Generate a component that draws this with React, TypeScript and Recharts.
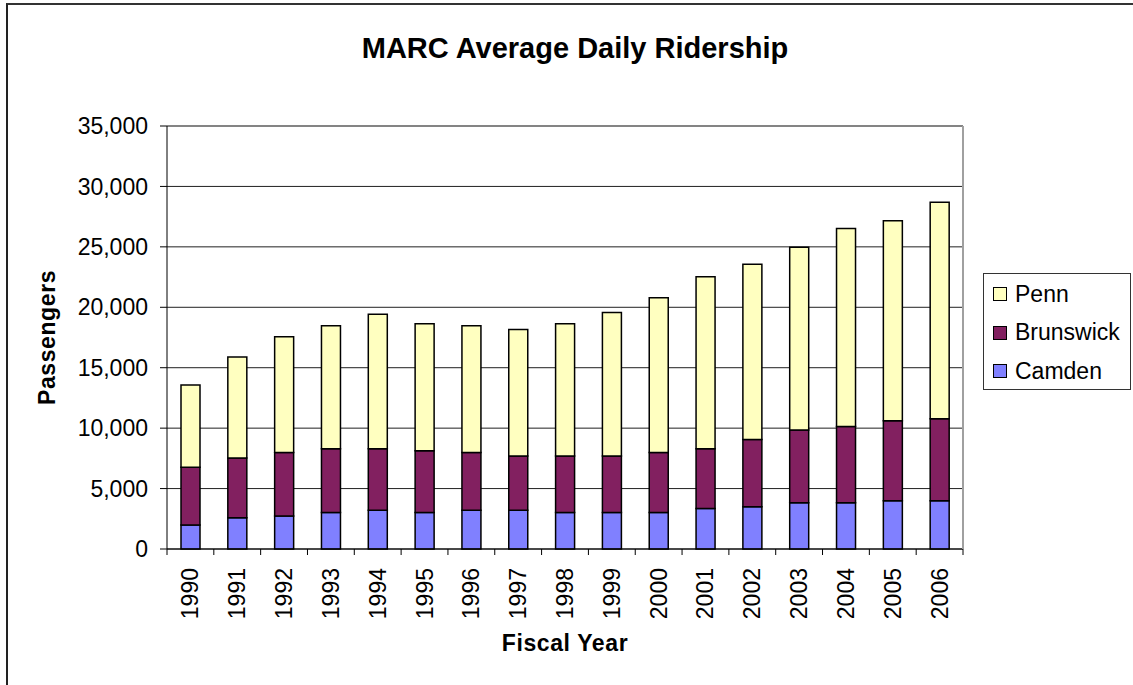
import React from 'react';
import { BarChart, Bar, XAxis, YAxis, CartesianGrid, Legend, ReferenceLine } from 'recharts';

const YEARS = ['1990', '1991', '1992', '1993', '1994', '1995', '1996', '1997', '1998',
  '1999', '2000', '2001', '2002', '2003', '2004', '2005', '2006'];
const CAMDEN = [1990, 2590, 2730, 3030, 3200, 3030, 3200, 3200, 3030, 3030, 3030, 3360, 3500, 3830, 3830, 4000, 4000];
const BRUNSWICK = [4770, 4930, 5260, 5270, 5100, 5100, 4790, 4490, 4660, 4660, 4960, 4940, 5570, 6010, 6310, 6610, 6780];
const PENN = [6800, 8360, 9570, 10170, 11130, 10500, 10480, 10470, 10940, 11880, 12790, 14220, 14500, 15130, 16380, 16540, 17910];
const Y_TICKS = [0, 5000, 10000, 15000, 20000, 25000, 30000, 35000];
const LEGEND_ORDER = ['Penn', 'Brunswick', 'Camden'];

const FONT = "'Liberation Sans', Arial, sans-serif";
const W = 1133;
const H = 685;
const PLOT_LEFT = 167;
const PLOT_RIGHT = 963;
const BAND = (PLOT_RIGHT - PLOT_LEFT) / YEARS.length;

const data = YEARS.map((year, i) => ({
  year,
  Camden: CAMDEN[i],
  Brunswick: BRUNSWICK[i],
  Penn: PENN[i],
}));

function YearTick(props: any) {
  const { x, y, payload } = props;
  const i = payload?.index ?? props.index;
  const ty = y + 19;
  return (
    <g>
      <line x1={x - BAND / 2} x2={x - BAND / 2} y1={y} y2={y + 6} stroke="#000" />
      {i === YEARS.length - 1 && (
        <line x1={x + BAND / 2} x2={x + BAND / 2} y1={y} y2={y + 6} stroke="#000" />
      )}
      <text x={x} y={ty} transform={`rotate(-90 ${x} ${ty})`} textAnchor="end"
        dominantBaseline="central" fontSize={23} fontFamily={FONT} fill="#000">
        {payload.value}
      </text>
    </g>
  );
}

function LegendBox(props: any) {
  const items = [...(props.payload || [])].sort(
    (a: any, b: any) => LEGEND_ORDER.indexOf(a.value) - LEGEND_ORDER.indexOf(b.value));
  return (
    <div style={{
      width: 148, height: 117, boxSizing: 'border-box', border: '1px solid #333',
      background: '#fff', paddingTop: 1, fontFamily: FONT,
    }}>
      {items.map((it: any) => (
        <div key={it.value} style={{ height: 38.5, display: 'flex', alignItems: 'center', paddingLeft: 9 }}>
          <span style={{ width: 12, height: 12, border: '1px solid #000', background: it.color, marginRight: 8, flexShrink: 0 }} />
          <span style={{ fontSize: 23, color: '#000', lineHeight: 1 }}>{it.value}</span>
        </div>
      ))}
    </div>
  );
}

export default function App() {
  return (
    <div style={{ position: 'absolute', left: 0, top: 0, width: W, height: H, background: '#fff', overflow: 'hidden' }}>
      <div style={{
        position: 'absolute', left: 6, top: 3, right: -4, bottom: -4,
        borderTop: '2px solid #333', borderLeft: '2px solid #222',
      }} />
      <div style={{
        position: 'absolute', left: 0, top: 34, width: 1150, textAlign: 'center',
        fontFamily: FONT, fontWeight: 700, fontSize: 29, lineHeight: 1, color: '#000',
      }}>
        MARC Average Daily Ridership
      </div>
      <BarChart width={W} height={H} data={data}
        margin={{ top: 126, right: W - PLOT_RIGHT - 1, left: 0, bottom: 0 }}>
        <CartesianGrid vertical={false} stroke="#202020" />
        <XAxis dataKey="year" height={H - 549} interval={0} tickLine={false}
          tickSize={0} tickMargin={0} axisLine={{ stroke: '#000' }}
          tick={(p: any) => <YearTick {...p} />}
          label={{
            content: ({ viewBox }: any) => (
              <text x={viewBox.x + viewBox.width / 2} y={viewBox.y + 94} textAnchor="middle"
                dominantBaseline="central" fontFamily={FONT} fontWeight={700} fontSize={23}
                letterSpacing={0.6} fill="#000">
                Fiscal Year
              </text>
            ),
          }} />
        <YAxis width={PLOT_LEFT} domain={[0, 35000]} ticks={Y_TICKS} interval={0}
          tickSize={7} tickMargin={12} axisLine={{ stroke: '#000' }} tickLine={{ stroke: '#000' }}
          tickFormatter={(v: number) => v.toLocaleString('en-US')}
          tick={{ fill: '#000', fontSize: 23, fontFamily: FONT }}
          label={{
            content: ({ viewBox }: any) => {
              const cx = 47;
              const cy = viewBox.y + viewBox.height / 2;
              return (
                <text x={cx} y={cy} transform={`rotate(-90 ${cx} ${cy})`} textAnchor="middle"
                  dominantBaseline="central" fontFamily={FONT} fontWeight={700} fontSize={23}
                  letterSpacing={0.6} fill="#000">
                  Passengers
                </text>
              );
            },
          }} />
        <YAxis yAxisId="frame" orientation="right" width={1} domain={[0, 1]} tick={false}
          tickLine={false} axisLine={{ stroke: '#a0a0a0', strokeWidth: 2 }} />
        <ReferenceLine y={35000} stroke="#808080" strokeWidth={1.5} />
        <Bar dataKey="Camden" stackId="a" fill="#8080FF" stroke="#000" strokeWidth={1.5} barSize={19} isAnimationActive={false} />
        <Bar dataKey="Brunswick" stackId="a" fill="#822060" stroke="#000" strokeWidth={1.5} barSize={19} isAnimationActive={false} />
        <Bar dataKey="Penn" stackId="a" fill="#FFFFC0" stroke="#000" strokeWidth={1.5} barSize={19} isAnimationActive={false} />
        <Legend layout="vertical" align="center" verticalAlign="middle" width={148} height={117}
          wrapperStyle={{ left: 983, top: 273 }}
          content={(p: any) => <LegendBox {...p} />} />
      </BarChart>
    </div>
  );
}
